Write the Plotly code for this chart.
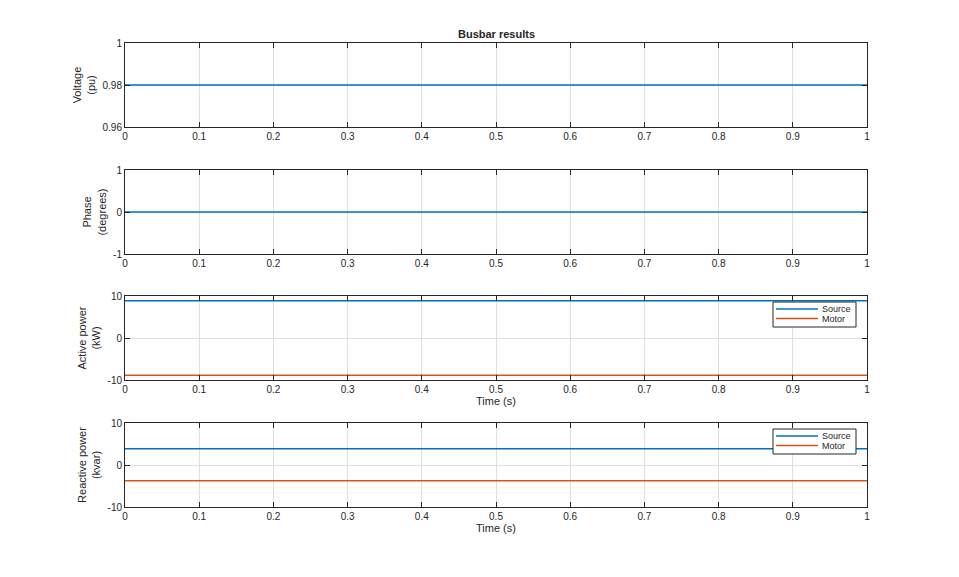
import plotly.graph_objects as go

# ---- data ----
time_s = [0.0, 0.25, 0.5, 0.75, 1.0]
voltage_pu = [0.98, 0.98, 0.98, 0.98, 0.98]
phase_deg = [0.0, 0.0, 0.0, 0.0, 0.0]
p_source_kw = [8.85, 8.85, 8.85, 8.85, 8.85]
p_motor_kw = [-8.85, -8.85, -8.85, -8.85, -8.85]
q_source_kvar = [3.85, 3.85, 3.85, 3.85, 3.85]
q_motor_kvar = [-3.75, -3.75, -3.75, -3.75, -3.75]

x_ticks = [0, 0.1, 0.2, 0.3, 0.4, 0.5, 0.6, 0.7, 0.8, 0.9, 1]
x_ticklabels = ["0", "0.1", "0.2", "0.3", "0.4", "0.5", "0.6", "0.7", "0.8", "0.9", "1"]
panel_titles = ["Voltage<br>(pu)", "Phase<br>(degrees)", "Active power<br>(kW)", "Reactive power<br>(kvar)"]
panel_yticks = [[0.96, 0.98, 1], [-1, 0, 1], [-10, 0, 10], [-10, 0, 10]]
panel_yticklabels = [["0.96", "0.98", "1"], ["-1", "0", "1"], ["-10", "0", "10"], ["-10", "0", "10"]]
panel_yrange = [[0.96, 1], [-1, 1], [-10, 10], [-10, 10]]
legend_names = ["Source", "Motor"]

BLUE = "#0072BD"
ORANGE = "#D95319"
TXT = "#262626"
W, H = 959, 577
FONT = "Liberation Sans, Arial, sans-serif"
OFF = 8  # page body margin

# plot area pixel rectangles (top, bottom) in window coordinates
rows_px = [(43, 127), (170, 254), (296, 380), (423, 507)]
x0, x1 = 125, 867


def px(xp):
    return (xp - OFF) / W


def py(yp):
    return 1 - (yp - OFF) / H


fig = go.Figure()

series = [
    [(voltage_pu, BLUE, None)],
    [(phase_deg, BLUE, None)],
    [(p_source_kw, BLUE, legend_names[0]), (p_motor_kw, ORANGE, legend_names[1])],
    [(q_source_kvar, BLUE, legend_names[0]), (q_motor_kvar, ORANGE, legend_names[1])],
]

layout = dict(
    width=W, height=H,
    margin=dict(l=0, r=0, t=0, b=0, autoexpand=False),
    paper_bgcolor="white", plot_bgcolor="white",
    font=dict(family=FONT, size=10, color=TXT),
    showlegend=False,
)

shapes = []
annotations = []

for i, (top, bot) in enumerate(rows_px):
    n = i + 1
    xa = "xaxis" if n == 1 else f"xaxis{n}"
    ya = "yaxis" if n == 1 else f"yaxis{n}"
    xref = "x" if n == 1 else f"x{n}"
    yref = "y" if n == 1 else f"y{n}"
    for vals, col, name in series[i]:
        fig.add_trace(go.Scatter(
            x=time_s, y=vals, mode="lines", line=dict(color=col, width=1.5),
            name=name if name else "", showlegend=False,
            xaxis=xref, yaxis=yref,
        ))
    layout[xa] = dict(
        domain=[px(x0), px(x1)], anchor=yref, range=[0, 1], automargin=False,
        tickvals=x_ticks, ticktext=x_ticklabels,
        ticks="inside", ticklen=5, tickcolor=TXT,
        showline=True, linecolor=TXT, linewidth=1, mirror="ticks",
        showgrid=True, gridcolor="#DFDFDF", gridwidth=1, zeroline=False,
        tickfont=dict(size=10, color=TXT),
        title=dict(text="Time (s)" if n >= 3 else "", font=dict(size=11, color=TXT), standoff=0),
    )
    layout[ya] = dict(
        domain=[py(bot), py(top)], anchor=xref, range=panel_yrange[i], automargin=False,
        tickvals=panel_yticks[i], ticktext=panel_yticklabels[i],
        ticks="inside", ticklen=5, tickcolor=TXT,
        showline=True, linecolor=TXT, linewidth=1, mirror="ticks",
        showgrid=True, gridcolor="#DFDFDF", gridwidth=1, zeroline=False,
        tickfont=dict(size=10, color=TXT),
        title=dict(text=panel_titles[i], font=dict(size=11, color=TXT), standoff=4),
    )

    # manual MATLAB-style legend box for panels with named series
    if any(s[2] for s in series[i]):
        bx0, bx1 = 773, 856
        by0 = top + 6
        row_h = 9.5
        by1 = by0 + 5 + row_h * len(series[i]) + 1
        shapes.append(dict(type="rect", xref="paper", yref="paper",
                           x0=px(bx0), x1=px(bx1), y0=py(by0), y1=py(by1),
                           line=dict(color=TXT, width=1), fillcolor="white", layer="above"))
        for k, (vals, col, name) in enumerate(series[i]):
            ly = by0 + 7 + row_h * k
            shapes.append(dict(type="line", xref="paper", yref="paper",
                               x0=px(776), x1=px(818), y0=py(ly), y1=py(ly),
                               line=dict(color=col, width=1.5), layer="above"))
            annotations.append(dict(text=name, x=px(820), y=py(ly), xref="paper", yref="paper",
                                    showarrow=False, xanchor="left", yanchor="middle",
                                    font=dict(size=9, color=TXT)))

annotations.append(dict(
    text="<b>Busbar results</b>", x=px((x0 + x1) / 2), y=py(34),
    xref="paper", yref="paper", showarrow=False,
    font=dict(size=11, color=TXT), xanchor="center", yanchor="middle",
))
layout["shapes"] = shapes
layout["annotations"] = annotations

fig.update_layout(**layout)
fig.write_html("out.html")
